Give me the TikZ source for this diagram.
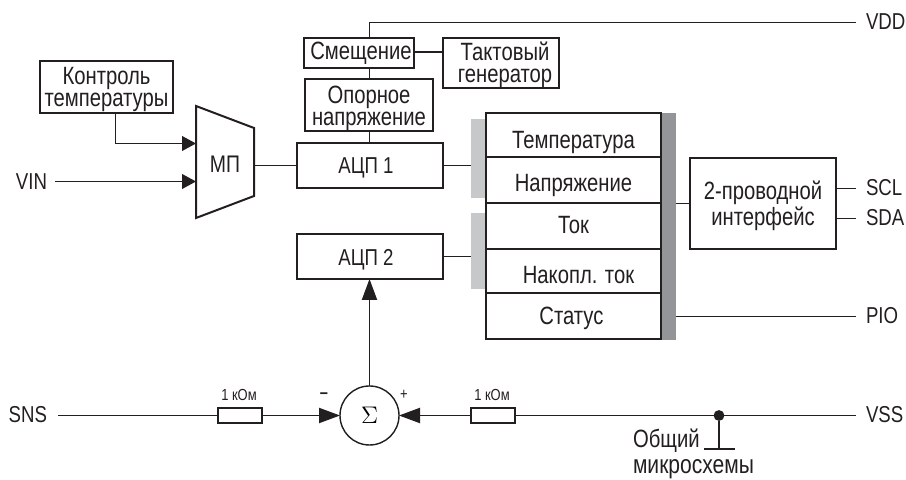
\documentclass[tikz,border=0pt]{standalone}
\usepackage{fontspec}
\setmainfont[FakeStretch=0.81]{Liberation Sans}
\usetikzlibrary{positioning,arrows.meta,calc}
\definecolor{inkblack}{RGB}{35,31,32}
\definecolor{busdark}{RGB}{147,149,152}
\definecolor{buslight}{RGB}{199,200,202}
\newcommand{\droptext}[2]{\raisebox{-#1}[9pt][2.5pt]{#2}}
\tikzset{
  block/.style={rectangle,draw=inkblack,line width=1pt,fill=white,text=inkblack,inner sep=0pt,outer sep=0pt,
    align=center,font=\fontsize{12.5}{11.4}\selectfont},
  pinlabel/.style={text=inkblack,inner sep=0pt,outer sep=0pt,font=\fontsize{11.5}{12}\selectfont},
  wire/.style={draw=inkblack,line width=0.7pt},
  arrowwire/.style={wire,-{Triangle[length=7pt,width=7.4pt]}},
  bigarrow/.style={wire,-{Triangle[length=10.5pt,width=7.6pt]}},
  resistor/.style={rectangle,draw=inkblack,line width=1pt,fill=white,inner sep=0pt,outer sep=0pt,minimum width=22pt,minimum height=7.6pt},
  smalllabel/.style={text=inkblack,inner sep=0pt,font=\fontsize{8}{8}\selectfont},
  busbar/.style={inner sep=0pt,outer sep=0pt,draw=none},
}
\begin{document}
\begin{tikzpicture}[x=0.5pt,y=-0.5pt]
\useasboundingbox (0,0) rectangle (906,480);
% bus bars behind the register stack
\node[busbar,fill=buslight,minimum width=8pt,minimum height=39.5pt] (busa) at (479,158.5) {};
\node[busbar,fill=buslight,minimum width=8pt,minimum height=37.8pt] (busb) at (479,250.8) {};
\node[busbar,fill=busdark,minimum width=7.5pt,minimum height=113.5pt] (busc) at (668.5,226.5) {};
% blocks
\node[block,minimum width=66.5pt,minimum height=26pt] (tempctl) at (106.5,87) {\rule{0pt}{11pt}Контроль\\температуры};
\node[block,minimum width=55pt,minimum height=15pt] (bias) at (359,53) {\hspace{2pt}Смещение};
\node[block,minimum width=58pt,minimum height=25pt] (clock) at (501,63) {\rule{0pt}{11pt}\hspace*{4pt}Тактовый\\\hspace*{4pt}генератор};
\node[block,minimum width=64pt,minimum height=26pt] (vref) at (369,105) {\rule{0pt}{12pt}Опорное\\напряжение};
\node[block,minimum width=73pt,minimum height=22.5pt,font=\fontsize{11.5}{12}\selectfont] (adca) at (370,165.5) {\droptext{1pt}{АЦП 1}\hspace{4pt}};
\node[block,minimum width=73pt,minimum height=22.5pt,font=\fontsize{11.5}{12}\selectfont] (adcb) at (370,256.5) {\droptext{1.2pt}{АЦП 2}\hspace{4pt}};
\node[block,minimum width=73pt,minimum height=45.7pt] (twowire) at (763,203.7) {\rule{0pt}{11.5pt}2-проводной\\интерфейс};
% register stack
\node[block,minimum width=87.5pt,minimum height=22.3pt] (regtemp) at (573.5,135.2) {\droptext{3.4pt}{Температура}};
\node[block,minimum width=87.5pt,minimum height=22.7pt] (regvolt) at (573.5,180.2) {\droptext{2.4pt}{Напряжение}};
\node[block,minimum width=87.5pt,minimum height=23.2pt] (regcurr) at (573.5,226.2) {\droptext{0.65pt}{Ток}};
\node[block,minimum width=87.5pt,minimum height=22pt] (regacc) at (573.5,271.5) {\hspace{5pt}\droptext{3pt}{Накопл. ток}};
\node[block,minimum width=87.5pt,minimum height=22.7pt] (regstat) at (573.5,316.2) {\droptext{1.15pt}{Статус}\hspace{2pt}};
% multiplexer
\node[inner sep=0pt,outer sep=0pt,minimum width=29pt,minimum height=56pt,text=inkblack,font=\fontsize{12}{12}\selectfont] (mux) at (225,162) {\droptext{2.2pt}{МП}};
\draw[draw=inkblack,line width=1pt,line join=miter] (mux.north west) -- ($(mux.north east)+(0,22)$) -- ($(mux.south east)+(0,-22)$) -- (mux.south west) -- cycle;
% pins
\node[pinlabel,anchor=east] (vin) at (47,181.5) {VIN};
\node[pinlabel,anchor=east] (sns) at (47,415) {SNS};
\node[pinlabel,anchor=west] (vdd) at (866,22) {VDD};
\node[pinlabel,anchor=west] (scl) at (866,188) {SCL};
\node[pinlabel,anchor=west] (sda) at (866,218) {SDA};
\node[pinlabel,anchor=west] (pio) at (866,316) {PIO};
\node[pinlabel,anchor=west] (vss) at (866,415) {VSS};
% bottom row
\node[circle,draw=inkblack,line width=0.7pt,fill=white,inner sep=0pt,outer sep=0pt,minimum size=29.5pt,font=\fontsize{12}{12}\selectfont] (summer) at (369.5,415.5) {$\Sigma$};
\node[resistor] (rsns) at (240,415.5) {};
\node[resistor] (rvss) at (493,415.5) {};
\node[smalllabel] (rsnslabel) at (239,395) {1 кОм};
\node[smalllabel] (rvsslabel) at (492,395) {1 кОм};
\node[text=inkblack,inner sep=0pt,font=\fontsize{9}{9}\selectfont\bfseries] (minus) at (324,396) {–};
\node[text=inkblack,inner sep=0pt,font=\fontsize{8}{8}\selectfont] (plus) at (404,395) {+};
\node[circle,fill=inkblack,inner sep=0pt,outer sep=0pt,minimum size=5.4pt] (gnddot) at (719,415.5) {};
\coordinate (gndbase) at (719,449.5);
\coordinate (gndleft) at (704,449.5);
\coordinate (gndright) at (735,449.5);
\coordinate (vddcorner) at (369.5,22.5);
\coordinate (ctlcorner) at (115.5,143.5);
\node[pinlabel,anchor=west,font=\fontsize{12.5}{12}\selectfont] (gndtopline) at (633,441) {Общий};
\node[pinlabel,anchor=west,font=\fontsize{13}{12}\selectfont] (gndbotline) at (633,469) {микросхемы};
% wires
\draw[wire] (bias.north -| vddcorner) -- (vddcorner) -- (856,22.5);
\draw[wire] (bias.south -| vddcorner) -- (vref.north -| vddcorner);
\draw[wire] (vref.south -| vddcorner) -- (adca.north -| vddcorner);
\draw[wire] (bias.east |- 0,52) -- (clock.west |- 0,52);
\draw[wire] (mux.east |- adca.west) -- (adca.west);
\draw[wire] (adca.east) -- (busa.west |- adca.east);
\draw[wire] (adcb.east) -- (busb.west |- adcb.east);
\draw[wire] (busc.east |- twowire.west) -- (twowire.west);
\draw[wire] (twowire.east |- 0,188.5) -- (856,188.5);
\draw[wire] (twowire.east |- 0,218.5) -- (856,218.5);
\draw[wire] (busc.east |- 0,316.5) -- (856,316.5);
\draw[arrowwire] (tempctl.south -| ctlcorner) -- (ctlcorner) -- (mux.west |- ctlcorner);
\draw[arrowwire] (55,181.5) -- (mux.west |- 0,181.5);
\draw[bigarrow] (summer.north) -- (adcb.south -| summer.north);
\draw[wire] (58,415.5) -- (rsns.west);
\draw[bigarrow] (rsns.east) -- (summer.west);
\draw[bigarrow] (rvss.west) -- (summer.east);
\draw[wire] (rvss.east) -- (gnddot) -- (856,415.5);
\draw[wire] (gnddot) -- (gndbase);
\draw[draw=inkblack,line width=1pt] (gndleft) -- (gndright);
\end{tikzpicture}
\end{document}
